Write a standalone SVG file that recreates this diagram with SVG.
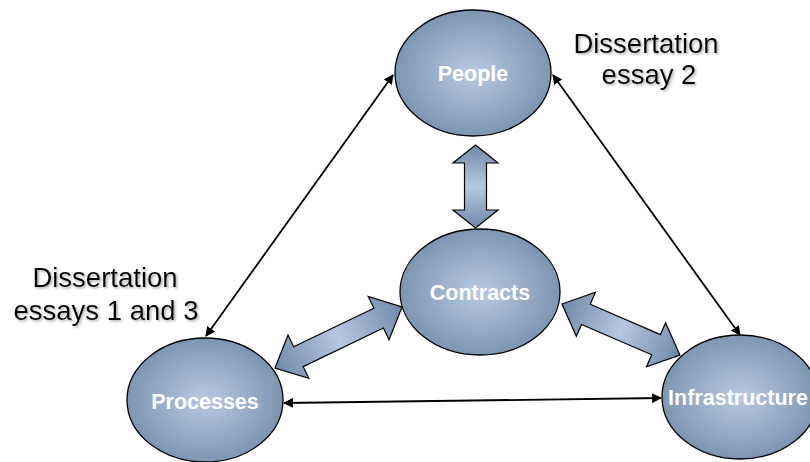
<svg xmlns="http://www.w3.org/2000/svg" width="810" height="462" viewBox="0 0 810 462">
<style>
.node{stroke:#000;stroke-width:1.3;fill:url(#rg)}
.nl{font-family:"Liberation Sans",Arial,sans-serif;font-weight:bold;font-size:21.5px;fill:#fff;text-anchor:middle}
.lab{font-family:"Liberation Sans",Arial,sans-serif;font-size:27.5px;fill:#000;text-anchor:middle;filter:url(#sh)}
.ln{stroke:#000;stroke-width:1.8;fill:none;marker-start:url(#ah);marker-end:url(#ah)}
.blk{stroke:#000;stroke-width:1.2;fill:url(#lg);stroke-linejoin:miter}
</style>
<defs>
<radialGradient id="rg" cx="0.5" cy="0.5" r="0.55">
<stop offset="0" stop-color="#b8cae2"/>
<stop offset="1" stop-color="#7890ae"/>
</radialGradient>
<linearGradient id="lg" x1="0" y1="0" x2="1" y2="0">
<stop offset="0" stop-color="#7088a8"/>
<stop offset="0.5" stop-color="#b6c8e0"/>
<stop offset="1" stop-color="#7088a8"/>
</linearGradient>
<marker id="ah" viewBox="0 0 10 10" refX="9" refY="5" markerWidth="5.5" markerHeight="5.5" orient="auto-start-reverse">
<path d="M0,0 L10,5 L0,10 z" fill="#000"/>
</marker>
<filter id="sh" x="-10%" y="-20%" width="130%" height="150%">
<feDropShadow dx="1.5" dy="1.5" stdDeviation="0.8" flood-color="#888" flood-opacity="0.7"/>
</filter>
</defs>
<g id="connectors">
<line class="ln" x1="393" y1="75" x2="206" y2="336"/>
<line class="ln" x1="553" y1="75" x2="740" y2="335"/>
<line class="ln" x1="284" y1="403" x2="661" y2="398"/>
<polygon class="blk" transform="translate(475.5,145) rotate(90)" points="0,0 18,-22.5 18,-11 65,-11 65,-22.5 83,0 65,22.5 65,11 18,11 18,22.5"/>
<polygon class="blk" transform="translate(275,368) rotate(-25.7)" points="0,0 26,-24 26,-11 115,-11 115,-24 141,0 115,24 115,11 26,11 26,24"/>
<polygon class="blk" transform="translate(562,304) rotate(23.4)" points="0,0 26,-24 26,-11 102.5,-11 102.5,-24 128.5,0 102.5,24 102.5,11 26,11 26,24"/>
</g>
<g id="people">
<ellipse class="node" cx="473" cy="73" rx="78" ry="63"/>
<text class="nl" x="473" y="81">People</text>
</g>
<g id="contracts">
<ellipse class="node" cx="480" cy="292" rx="80" ry="63"/>
<text class="nl" x="480" y="300">Contracts</text>
</g>
<g id="processes">
<ellipse class="node" cx="205" cy="400" rx="78" ry="62"/>
<text class="nl" x="205" y="409">Processes</text>
</g>
<g id="infrastructure">
<ellipse class="node" cx="740" cy="397" rx="78" ry="62"/>
<text class="nl" x="738" y="405">Infrastructure</text>
</g>
<g id="label-essay2">
<text class="lab" x="646" y="53">Dissertation</text>
<text class="lab" x="649" y="84">essay 2</text>
</g>
<g id="label-essays13">
<text class="lab" x="105" y="287">Dissertation</text>
<text class="lab" x="106" y="320">essays 1 and 3</text>
</g>
</svg>
